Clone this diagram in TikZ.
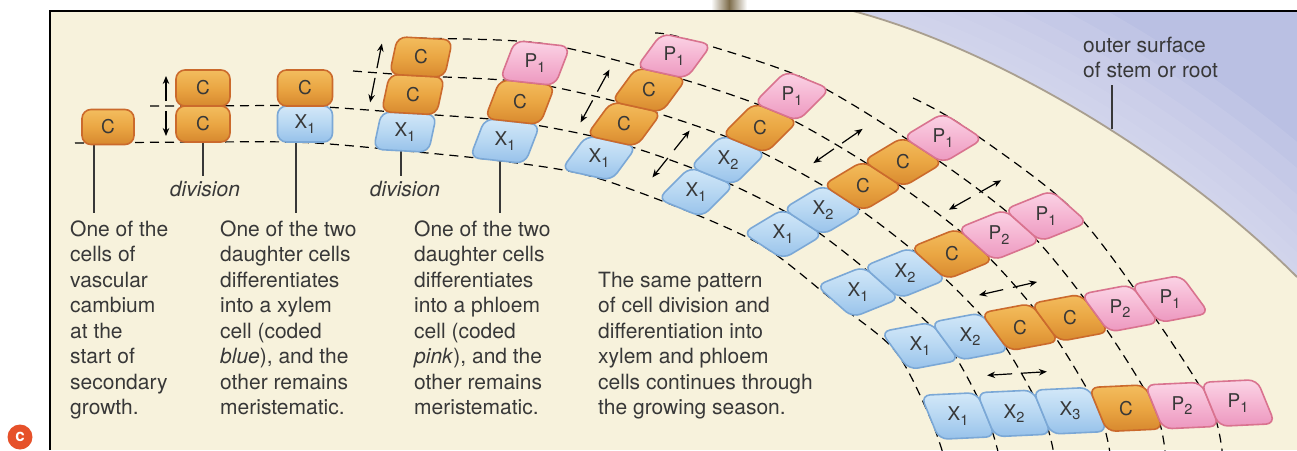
\documentclass[tikz,border=0pt]{standalone}
\usepackage{fontspec}
\setmainfont{TeX Gyre Heros}
\usetikzlibrary{calc,arrows.meta}

\definecolor{panel}{HTML}{F7F2DC}
\definecolor{ink}{HTML}{383838}
\definecolor{skyA}{HTML}{BAC0E3}
\definecolor{skyB}{HTML}{D8DBEF}
\definecolor{rim}{HTML}{A99F90}
\definecolor{stem}{HTML}{7E6D4B}
\definecolor{badge}{HTML}{E6512A}
\definecolor{oTop}{HTML}{F3BD5E}
\definecolor{oMid}{HTML}{EAA643}
\definecolor{oBot}{HTML}{D7882E}
\definecolor{oEdge}{HTML}{CB6A2C}
\definecolor{bTop}{HTML}{D3E8F8}
\definecolor{bMid}{HTML}{B7D7F2}
\definecolor{bBot}{HTML}{96C1EA}
\definecolor{bEdge}{HTML}{7BA8D6}
\definecolor{pTop}{HTML}{FBD5E6}
\definecolor{pMid}{HTML}{F5B5D2}
\definecolor{pBot}{HTML}{EC97BF}
\definecolor{pEdge}{HTML}{D9738F}

\newcommand\sub[1]{\raisebox{-0.45ex}{\fontsize{14.5}{14.5}\selectfont #1}}
% a cell: centre, step to the next cell in its file, span along the layer, style, name, label
\newcommand\vcell[6]{%
  \path[cellbase,#4] ($(#1)+0.5*(#2)$) -- ($(#1)+0.5*(#2)+0.5*(#3)$)
    -- ($(#1)-0.5*(#2)+0.5*(#3)$) -- ($(#1)-0.5*(#2)-0.5*(#3)$)
    -- ($(#1)+0.5*(#2)-0.5*(#3)$) -- cycle;
  \node[celltext] (#5) at (#1) {#6};}
% pair of arrows pointing away from a division plane: midpoint, unit direction
\newcommand\splitarrows[2]{%
  \draw[splitarrow] ($(#1)+5*(#2)$) -- ($(#1)+30*(#2)$);
  \draw[splitarrow] ($(#1)-5*(#2)$) -- ($(#1)-30*(#2)$);}

\begin{document}
\begin{tikzpicture}[x=1pt,y=-1pt,
  cellbase/.style={rounded corners=9pt,line width=1.6pt},
  cellC/.style={top color=oTop,bottom color=oBot,middle color=oMid,draw=oEdge},
  cellX/.style={top color=bTop,bottom color=bBot,middle color=bMid,draw=bEdge},
  cellP/.style={top color=pTop,bottom color=pBot,middle color=pMid,draw=pEdge},
  celltext/.style={inner sep=0pt,text=ink,font=\fontsize{19}{19}\selectfont},
  note/.style={inner sep=0pt,text=ink,align=left,font=\fontsize{21}{25.5}\selectfont},
  guide/.style={draw=black,line width=1.2pt,dash pattern=on 9pt off 6pt},
  leader/.style={draw=ink,line width=1.3pt},
  splitarrow/.style={draw=black,line width=1.2pt,-{Stealth[length=8pt,width=6.5pt]}}]

\useasboundingbox (0,0) rectangle (1297,450);
\clip (0,0) rectangle (1297,450);
\fill[white] (0,0) rectangle (1297,450);

% edge of the neighbouring figure above the frame
\shade[left color=white,right color=white,middle color=stem] (711,0) rectangle (747,11);

% panel
\fill[panel] (50,11) rectangle (1297,450);

% outer tissue beyond the stem surface, paler towards the surface
\def\rimcurve{(853,11) .. controls (1000,50) and (1180,160) .. (1297,277)}
\begin{scope}
  \clip \rimcurve -- (1297,11) -- cycle;
  \fill[skyA] (700,0) rectangle (1297,300);
  \foreach \w in {200,160,120,90,60,35,15}
    \draw[skyB,line width=\w pt,opacity=0.22] \rimcurve;
\end{scope}
\draw[rim,line width=1.8pt] \rimcurve;

\draw[black,line width=1.1pt] (50,450) -- (50,11) -- (1297,11);

% layer boundaries
\draw[guide] plot[smooth,tension=0.5] coordinates {(75,143) (203,142) (305,142.5) (401,150.5) (497.5,160.5) (586.5,175) (680,208) (763,246) (834.5,301.5) (895,350.7) (930,417.3) (945,460)};
\draw[guide] plot[smooth,tension=0.5] coordinates {(150,106) (203,106) (305,106) (409,113.2) (512.5,121.5) (611.5,141) (712,176) (803,222) (881.5,282.5) (945,341.3) (986,414.7) (1000,460)};
\draw[guide] plot[smooth,tension=0.5] coordinates {(353,71) (417,75.7) (527.5,82.5) (636.5,107) (744,144) (843,198) (928.5,263.5) (995,331.9) (1042,412.1) (1055,460)};
\draw[guide] plot[smooth,tension=0.5] coordinates {(403,38) (425,38.2) (542.5,43.5) (661.5,73) (776,112) (883,174) (975.5,244.5) (1045,322.5) (1098,409.5) (1111,460)};
\draw[guide] plot[smooth,tension=0.5] coordinates {(655,33) (686.5,39) (808,80) (923,150) (1022.5,225.5) (1095,313.1) (1154,406.9) (1166,460)};
\draw[guide] plot[smooth,tension=0.5] coordinates {(913,98) (963,126) (1069.5,206.5) (1145,303.7) (1210,404.3) (1223,460)};

% captions
\node[note,anchor=north west] (note1) at (70,220) {\rule{0pt}{16pt}One of the\\cells of\\vascular\\cambium\\at the\\start of\\secondary\\growth.};
\node[note,anchor=north west] (note2) at (220,220) {\rule{0pt}{16pt}One of the two\\daughter cells\\differentiates\\into a xylem\\cell (coded\\\textit{blue}), and the\\other remains\\meristematic.};
\node[note,anchor=north west] (note3) at (414,220) {\rule{0pt}{16pt}One of the two\\daughter cells\\differentiates\\into a phloem\\cell (coded\\\textit{pink}), and the\\other remains\\meristematic.};
\node[note,anchor=north west] (note4) at (598,271) {\rule{0pt}{16pt}The same pattern\\of cell division and\\differentiation into\\xylem and phloem\\cells continues through\\the growing season.};
\node[note,anchor=north west] (surf) at (1083,36) {\rule{0pt}{16pt}outer surface\\of stem or root};
\node[note,anchor=base] (div1) at (205,196) {\textit{division}};
\node[note,anchor=base] (div2) at (405,196) {\textit{division}};

% leaders
\coordinate (f1) at (94,136);
\coordinate (f2) at (203,136);
\coordinate (f3) at (296,136);
\coordinate (f4) at (401,143);
\coordinate (f5) at (500,152);
\coordinate (rimpt) at (1112,129);
\draw[leader] (f1) -- (f1 |- 0,213);
\draw[leader] (f2) -- ($(f2 |- div1.north)+(0,-4)$);
\draw[leader] (f3) -- (f3 |- 0,213);
\draw[leader] (f4) -- ($(f4 |- div2.north)+(0,-4)$);
\draw[leader] (f5) -- (f5 |- 0,213);
\draw[leader] ($(rimpt |- surf.south)+(0,7)$) -- (rimpt);

% stage 1
\vcell{108,127}{0,-35}{52,0}{cellC}{s1c}{C}
% stage 2
\vcell{203,124}{0,-36}{54,0}{cellC}{s2a}{C}
\vcell{203,88}{0,-36}{54,0}{cellC}{s2b}{C}
% stage 3
\vcell{305,124}{0,-36}{55,0}{cellX}{s3a}{X\sub1}
\vcell{305,88}{0,-36}{55,0}{cellC}{s3b}{C}
% stage 4
\vcell{405,132}{8,-37.5}{55,3}{cellX}{s4a}{X\sub1}
\vcell{413,94.5}{8,-37.5}{55,3}{cellC}{s4b}{C}
\vcell{421,57}{8,-37.5}{55,3}{cellC}{s4c}{C}
% stage 5
\vcell{505,141}{15,-39}{55,6}{cellX}{s5a}{X\sub1}
\vcell{520,102}{15,-39}{55,6}{cellC}{s5b}{C}
\vcell{535,63}{15,-39}{55,6}{cellP}{s5c}{P\sub1}
% stage 6
\vcell{599,158}{25,-34}{50,11}{cellX}{s6a}{X\sub1}
\vcell{624,124}{25,-34}{50,11}{cellC}{s6b}{C}
\vcell{649,90}{25,-34}{50,11}{cellC}{s6c}{C}
\vcell{674,56}{25,-34}{50,11}{cellP}{s6d}{P\sub1}
% stage 7
\vcell{696,192}{32,-32}{44,18}{cellX}{s7a}{X\sub1}
\vcell{728,160}{32,-32}{44,18}{cellX}{s7b}{X\sub2}
\vcell{760,128}{32,-32}{44,18}{cellC}{s7c}{C}
\vcell{792,96}{32,-32}{44,18}{cellP}{s7d}{P\sub1}
% stage 8
\vcell{783,234}{40,-24}{40,26}{cellX}{s8a}{X\sub1}
\vcell{823,210}{40,-24}{40,26}{cellX}{s8b}{X\sub2}
\vcell{863,186}{40,-24}{40,26}{cellC}{s8c}{C}
\vcell{903,162}{40,-24}{40,26}{cellC}{s8d}{C}
\vcell{943,138}{40,-24}{40,26}{cellP}{s8e}{P\sub1}
% stage 9
\vcell{858,292}{47,-19}{36,32}{cellX}{s9a}{X\sub1}
\vcell{905,273}{47,-19}{36,32}{cellX}{s9b}{X\sub2}
\vcell{952,254}{47,-19}{36,32}{cellC}{s9c}{C}
\vcell{999,235}{47,-19}{36,32}{cellP}{s9d}{P\sub2}
\vcell{1046,216}{47,-19}{36,32}{cellP}{s9e}{P\sub1}
% stage 10
\vcell{920,346}{50,-9.4}{28,38}{cellX}{s10a}{X\sub1}
\vcell{970,336.6}{50,-9.4}{28,38}{cellX}{s10b}{X\sub2}
\vcell{1020,327.2}{50,-9.4}{28,38}{cellC}{s10c}{C}
\vcell{1070,317.8}{50,-9.4}{28,38}{cellC}{s10d}{C}
\vcell{1120,308.4}{50,-9.4}{28,38}{cellP}{s10e}{P\sub2}
\vcell{1170,299}{50,-9.4}{28,38}{cellP}{s10f}{P\sub1}
% stage 11
\vcell{958,416}{56,-2.6}{18,44}{cellX}{s11a}{X\sub1}
\vcell{1014,413.4}{56,-2.6}{18,44}{cellX}{s11b}{X\sub2}
\vcell{1070,410.8}{56,-2.6}{18,44}{cellX}{s11c}{X\sub3}
\vcell{1126,408.2}{56,-2.6}{18,44}{cellC}{s11d}{C}
\vcell{1182,405.6}{56,-2.6}{18,44}{cellP}{s11e}{P\sub2}
\vcell{1238,403}{56,-2.6}{18,44}{cellP}{s11f}{P\sub1}

% division arrows
\splitarrows{166,106}{0,-1}
\splitarrows{376,73}{0.196,-0.98}
\splitarrows{595,96}{0.48,-0.88}
\splitarrows{671,154}{0.62,-0.78}
\splitarrows{838,146}{0.82,-0.57}
\splitarrows{975,195}{0.87,-0.49}
\splitarrows{1008,288.5}{0.97,-0.22}
\splitarrows{1017,373.5}{0.995,-0.06}

% panel tag
\node[circle,fill=badge,minimum size=25pt,inner sep=0pt,text=white,
      font=\bfseries\fontsize{17}{17}\selectfont] (tag) at (20,437) {c};
\end{tikzpicture}
\end{document}
